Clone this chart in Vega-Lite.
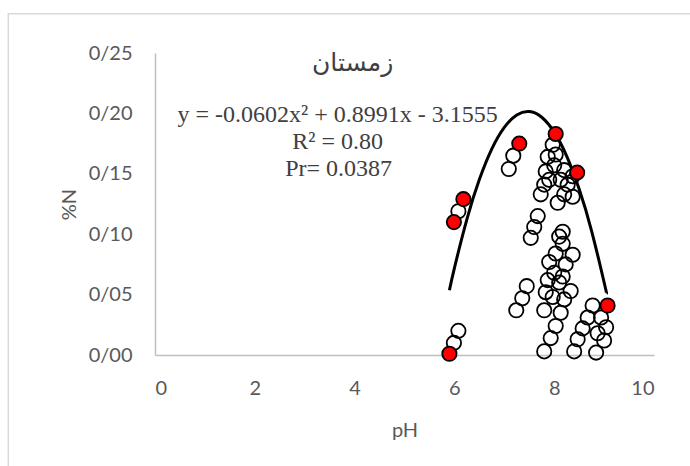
{
  "$schema": "https://vega.github.io/schema/vega-lite/v6.json",
  "width": 499,
  "height": 302,
  "autosize": {"type": "none"},
  "padding": {"left": 155, "top": 53, "right": 36, "bottom": 111},
  "background": "white",
  "config": {
    "view": {"stroke": null},
    "axis": {
      "grid": false,
      "ticks": false,
      "domainColor": "#bfbfbf",
      "domainWidth": 1.5,
      "labelFont": "Lato",
      "labelFontSize": 20,
      "labelColor": "#595959",
      "titleFont": "Lato",
      "titleFontSize": 20,
      "titleFontWeight": "normal",
      "titleColor": "#595959"
    }
  },
  "datasets": {
    "samples": [
      {"pH": 6.08, "N": 0.119}, {"pH": 6.08, "N": 0.020}, {"pH": 5.99, "N": 0.010},
      {"pH": 7.18, "N": 0.165}, {"pH": 7.09, "N": 0.154},
      {"pH": 7.45, "N": 0.057}, {"pH": 7.36, "N": 0.047}, {"pH": 7.24, "N": 0.037},
      {"pH": 7.97, "N": 0.174}, {"pH": 7.87, "N": 0.164}, {"pH": 8.03, "N": 0.166},
      {"pH": 8.00, "N": 0.157}, {"pH": 7.83, "N": 0.152}, {"pH": 7.90, "N": 0.145},
      {"pH": 7.80, "N": 0.141}, {"pH": 7.73, "N": 0.133}, {"pH": 8.20, "N": 0.153},
      {"pH": 8.13, "N": 0.145}, {"pH": 8.27, "N": 0.141}, {"pH": 8.37, "N": 0.148},
      {"pH": 8.20, "N": 0.133}, {"pH": 8.37, "N": 0.131}, {"pH": 8.07, "N": 0.126},
      {"pH": 7.67, "N": 0.115}, {"pH": 7.60, "N": 0.106}, {"pH": 7.53, "N": 0.097},
      {"pH": 8.17, "N": 0.102}, {"pH": 8.10, "N": 0.098}, {"pH": 8.17, "N": 0.092},
      {"pH": 8.03, "N": 0.084}, {"pH": 8.37, "N": 0.083}, {"pH": 7.90, "N": 0.077},
      {"pH": 8.23, "N": 0.075}, {"pH": 8.00, "N": 0.068}, {"pH": 8.17, "N": 0.065},
      {"pH": 7.87, "N": 0.062}, {"pH": 8.10, "N": 0.060}, {"pH": 8.33, "N": 0.053},
      {"pH": 7.83, "N": 0.052}, {"pH": 7.97, "N": 0.048}, {"pH": 7.80, "N": 0.037},
      {"pH": 8.20, "N": 0.046}, {"pH": 8.13, "N": 0.035}, {"pH": 8.03, "N": 0.024},
      {"pH": 7.93, "N": 0.014}, {"pH": 7.80, "N": 0.003},
      {"pH": 8.77, "N": 0.041}, {"pH": 8.67, "N": 0.031}, {"pH": 8.94, "N": 0.031},
      {"pH": 8.57, "N": 0.022}, {"pH": 8.87, "N": 0.018}, {"pH": 9.04, "N": 0.023},
      {"pH": 8.47, "N": 0.013}, {"pH": 9.00, "N": 0.012}, {"pH": 8.40, "N": 0.003},
      {"pH": 8.84, "N": 0.002}
    ],
    "highlighted": [
      {"pH": 5.90, "N": 0.001}, {"pH": 5.99, "N": 0.110}, {"pH": 6.18, "N": 0.129},
      {"pH": 7.30, "N": 0.175}, {"pH": 8.03, "N": 0.183}, {"pH": 8.46, "N": 0.151},
      {"pH": 9.07, "N": 0.041}
    ],
    "fit": [
      {"pH": 5.90, "N": 0.0536}, {"pH": 6.00, "N": 0.0719}, {"pH": 6.25, "N": 0.1123},
      {"pH": 6.50, "N": 0.1452}, {"pH": 6.75, "N": 0.1706}, {"pH": 7.00, "N": 0.1884},
      {"pH": 7.25, "N": 0.1987}, {"pH": 7.50, "N": 0.2015}, {"pH": 7.75, "N": 0.1968},
      {"pH": 8.00, "N": 0.1845}, {"pH": 8.25, "N": 0.1647}, {"pH": 8.50, "N": 0.1374},
      {"pH": 8.75, "N": 0.1026}, {"pH": 9.00, "N": 0.0602}, {"pH": 9.05, "N": 0.0508}
    ],
    "single": [{}]
  },
  "layer": [
    {
      "data": {"name": "single"},
      "mark": {"type": "rect", "fill": null, "stroke": "#d9d9d9", "strokeWidth": 1.5},
      "encoding": {
        "x": {"datum": -2.94, "type": "quantitative"},
        "x2": {"datum": 11.5},
        "y": {"datum": 0.2825, "type": "quantitative"},
        "y2": {"datum": -0.12}
      }
    },
    {
      "data": {"name": "samples"},
      "mark": {"type": "point", "shape": "circle", "filled": false, "stroke": "black", "strokeWidth": 1.8, "size": 205, "opacity": 1},
      "encoding": {
        "x": {"field": "pH", "type": "quantitative",
              "scale": {"domain": [0, 10], "nice": false},
              "axis": {"values": [0, 2, 4, 6, 8, 10], "title": "pH", "labelPadding": 23, "titlePadding": 22}},
        "y": {"field": "N", "type": "quantitative",
              "scale": {"domain": [0, 0.25], "nice": false},
              "axis": {"values": [0, 0.05, 0.1, 0.15, 0.2, 0.25], "title": "%N",
                       "labelExpr": "replace(format(datum.value, '.2f'), '.', '/')",
                       "labelPadding": 23, "titlePadding": 9}}
      }
    },
    {
      "data": {"name": "fit"},
      "mark": {"type": "line", "color": "black", "strokeWidth": 3, "interpolate": "natural"},
      "encoding": {
        "x": {"field": "pH", "type": "quantitative"},
        "y": {"field": "N", "type": "quantitative"}
      }
    },
    {
      "data": {"name": "highlighted"},
      "mark": {"type": "point", "shape": "circle", "filled": true, "fill": "#ff0000", "stroke": "black", "strokeWidth": 1.8, "size": 205, "opacity": 1},
      "encoding": {
        "x": {"field": "pH", "type": "quantitative"},
        "y": {"field": "N", "type": "quantitative"}
      }
    },
    {
      "data": {"name": "single"},
      "mark": {"type": "text", "text": "زمستان", "font": "Liberation Serif, DejaVu Sans, serif", "fontSize": 25, "color": "#404040", "align": "center", "baseline": "middle"},
      "encoding": {
        "x": {"datum": 3.96, "type": "quantitative"},
        "y": {"datum": 0.242, "type": "quantitative"}
      }
    },
    {
      "data": {"name": "single"},
      "mark": {"type": "text", "text": "y = -0.0602x² + 0.8991x - 3.1555", "font": "Liberation Serif", "fontSize": 24, "color": "#404040", "align": "center", "baseline": "middle"},
      "encoding": {
        "x": {"datum": 3.66, "type": "quantitative"},
        "y": {"datum": 0.199, "type": "quantitative"}
      }
    },
    {
      "data": {"name": "single"},
      "mark": {"type": "text", "text": "R² = 0.80", "font": "Liberation Serif", "fontSize": 24, "color": "#404040", "align": "center", "baseline": "middle"},
      "encoding": {
        "x": {"datum": 3.66, "type": "quantitative"},
        "y": {"datum": 0.1765, "type": "quantitative"}
      }
    },
    {
      "data": {"name": "single"},
      "mark": {"type": "text", "text": "Pr= 0.0387", "font": "Liberation Serif", "fontSize": 24, "color": "#404040", "align": "center", "baseline": "middle"},
      "encoding": {
        "x": {"datum": 3.68, "type": "quantitative"},
        "y": {"datum": 0.154, "type": "quantitative"}
      }
    }
  ]
}
